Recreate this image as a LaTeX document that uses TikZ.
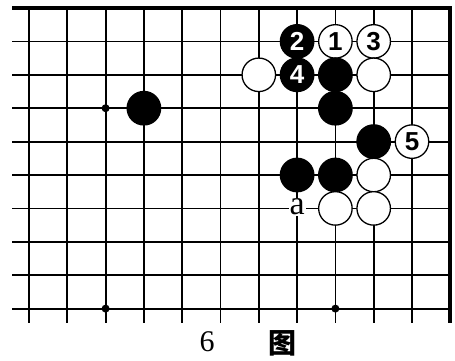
\documentclass[tikz,border=0pt]{standalone}
\usepackage{fontspec}
\setmainfont{Liberation Serif}
\newfontfamily\stonefont{Liberation Sans}
\newfontfamily\cjk{Noto Sans CJK SC}
\usepackage{tikz}

\begin{document}
\begin{tikzpicture}[
  x=38.3pt, y=-33.4pt,
  gridline/.style={line width=1.8pt},
  edgeline/.style={line width=3.8pt},
  stone/.style={circle, draw, line width=1.3pt, minimum size=33.5pt, inner sep=0pt,
    font=\stonefont\bfseries\fontsize{26}{26}\selectfont},
  bstone/.style={stone, fill=black, text=white},
  wstone/.style={stone, fill=white, text=black},
  star/.style={circle, fill=black, minimum size=8pt, inner sep=0pt},
  pointlabel/.style={fill=white, inner sep=1pt, font=\fontsize{34}{34}\selectfont},
  caption/.style={font=\fontsize{30}{30}\selectfont}
]
\useasboundingbox (-29pt,8pt) rectangle (426pt,-352pt);
% board lines
\foreach \r in {1,...,9}
  \draw[gridline] (-0.44,\r) -- (11,\r);
\foreach \c in {0,...,10}
  \draw[gridline] (\c,0) -- (\c,9.43);
\draw[edgeline] (-0.44,0) -- (11,0) -- (11,9.43);
\node[star] (star1) at (2,3) {};
\node[star] (star2) at (2,9) {};
\node[star] (star3) at (8,9) {};
% stones
\node[bstone] (b2) at (7,1) {2};
\node[wstone] (w1) at (8,1) {1};
\node[wstone] (w3) at (9,1) {3};
\node[wstone] (wa) at (6,2) {};
\node[bstone] (b4) at (7,2) {4};
\node[bstone] (ba) at (8,2) {};
\node[wstone] (wb) at (9,2) {};
\node[bstone] (bb) at (3,3) {};
\node[bstone] (bc) at (8,3) {};
\node[bstone] (bd) at (9,4) {};
\node[wstone] (w5) at (10,4) {5};
\node[bstone] (be) at (7,5) {};
\node[bstone] (bf) at (8,5) {};
\node[wstone] (wc) at (9,5) {};
\node[pointlabel] (pa) at (7,5.95) {a};
\node[wstone] (wd) at (8,6) {};
\node[wstone] (we) at (9,6) {};
% caption
\node[caption] (num) at (4.65,10.0) {6};
\node[caption, font=\cjk\bfseries\fontsize{28}{28}\selectfont] (tu) at (6.63,10.05) {图};
\end{tikzpicture}
\end{document}
